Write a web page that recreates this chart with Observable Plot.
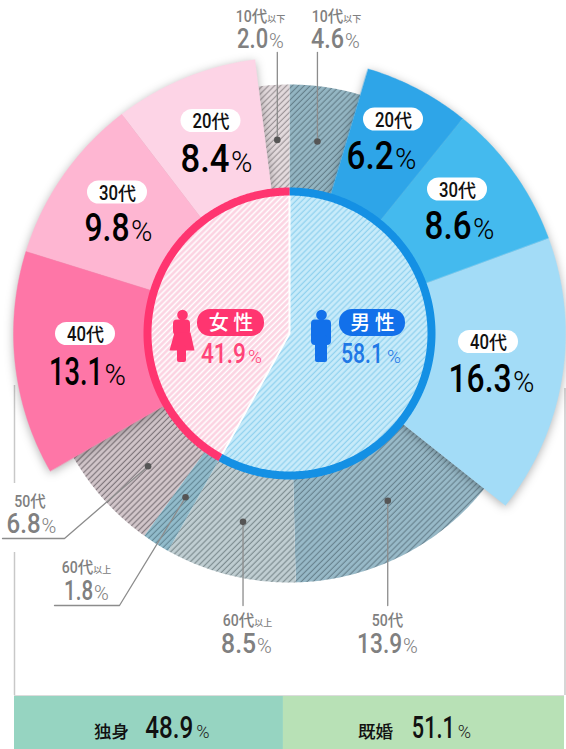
<!DOCTYPE html>
<html><head><meta charset="utf-8">
<script src="https://cdn.jsdelivr.net/npm/d3@7"></script>
<script src="https://cdn.jsdelivr.net/npm/@observablehq/plot@0.6"></script>
<style>
html,body{margin:0;padding:0;background:#fff;overflow:hidden}
</style></head><body><div id="chart"></div>
<script>
// ---- data (percent) ----
const maleAges = ["10代以下","20代","30代","40代","50代","60代以上"];
const maleValues = [4.6,6.2,8.6,16.3,13.9,8.5];
const femaleAges = ["10代以下","20代","30代","40代","50代","60代以上"];
const femaleValues = [2.0,8.4,9.8,13.1,6.8,1.8];
const genderNames = ["男性","女性"];
const genderValues = [58.1,41.9];
const maritalNames = ["独身","既婚"];
const maritalValues = [48.9,51.1];

// ---- styling / layout ----
const W=566,H=749,cx=289,cy=333,Rbig=276,Rgray=249,Rring=146,Rin=138;
const NUM='Roboto,sans-serif';
const JP='"Noto Sans CJK JP",sans-serif';
const maleFills=["url(#gm10)","#2ea5e8","#44baee","#a3dcf7","url(#gm50)","url(#gm60)"];
const femaleFills=["url(#gf10)","#fdd4e6","#feb6d2","#fe76a7","url(#gf50)","url(#gf60)"];
const patterns=[
 ["gm10","#94b6c3","rgba(55,75,85,.5)",1.2],
 ["gm50","#98bac8","rgba(55,75,85,.5)",1.2],
 ["gm60","#c0ced2","rgba(60,75,80,.5)",1.2],
 ["gf10","#e3dadd","rgba(70,65,70,.45)",1.2],
 ["gf50","#d2c6ca","rgba(60,55,60,.55)",1.2],
 ["gf60","#92bccc","rgba(55,85,100,.5)",1.2],
 ["pm","#c8ebfa","#92d2ef",1.3],
 ["pf","#fcd3e2","#fff",1.5],
];
const pol=(pct,r)=>{const a=pct/100*2*Math.PI;return [cx+r*Math.sin(a),cy-r*Math.cos(a)];};
function wedge(a0,a1,r0,r1,key,color){
  const n=Math.max(2,Math.ceil(Math.abs(a1-a0)*7.2)),pts=[];
  for(let i=0;i<=n;i++){pts.push(pol(a0+(a1-a0)*i/n,r1));}
  if(r0>0){for(let i=n;i>=0;i--){pts.push(pol(a0+(a1-a0)*i/n,r0));}}
  else pts.push([cx,cy]);
  return pts.map(([x,y])=>({x,y,key,color}));
}
let c=0;const maleSec=maleValues.map((v,i)=>{const s={a0:c,a1:c+v,fill:maleFills[i]};c+=v;return s;});
c=100;const femaleSec=femaleValues.map((v,i)=>{const s={a0:c-v,a1:c,fill:femaleFills[i]};c-=v;return s;});
const all=[...maleSec,...femaleSec];
const isGray=s=>s.fill.startsWith("url");
const grayMarks=all.filter(isGray).map(s=>Plot.line(wedge(s.a0,s.a1,Rin,Rgray),{x:"x",y:"y",fill:s.fill,stroke:"none",curve:"linear-closed"}));
const coloredPts=all.filter(s=>!isGray(s)).flatMap((s,i)=>wedge(s.a0,s.a1,Rin,Rbig,"k"+i,s.fill));
const mid=s=>(s.a0+s.a1)/2;

// text runs: tw = width a part is horizontally scaled to
const ctx=document.createElement("canvas").getContext("2d");
const rows=[];
function run(center,y,parts,gap=1){
  const nat=parts.map(p=>{ctx.font=`${p.w} ${p.s}px ${p.f}`;return ctx.measureText(p.t).width;});
  const ws=parts.map((p,i)=>p.tw??nat[i]);
  const tot=d3.sum(ws)+gap*(parts.length-1);
  let x=center-tot/2;
  parts.forEach((p,i)=>{rows.push({x,y,t:p.t,size:p.s,w:p.w,f:p.f,c:p.c,sx:ws[i]/nat[i]});x+=ws[i]+gap;});
}
const fmt=v=>v.toFixed(1);
const D=(v,s,tw,c,w=500)=>({t:fmt(v),s,w,f:NUM,c,tw});
const P=(s,c)=>({t:"%",s,w:300,f:NUM,c});
function age(a,ds,dtw,ks,c,w,subs){
  const m=a.match(/^(\d+)(代)(.*)$/);
  const parts=[{t:m[1],s:ds,w,f:NUM,c,tw:dtw},{t:m[2],s:ks,w:500,f:JP,c}];
  if(m[3]&&subs)parts.push({t:m[3],s:subs,w:500,f:JP,c});
  return parts;
}
const bigLabels=[
 {v:maleValues[1],a:maleAges[1],px:393,py:119,nx:381,ny:168,tw:47},
 {v:maleValues[2],a:maleAges[2],px:457,py:189,nx:459,ny:238,tw:47},
 {v:maleValues[3],a:maleAges[3],px:488,py:341.5,nx:491,ny:391,tw:63},
 {v:femaleValues[1],a:femaleAges[1],px:210.5,py:120.5,nx:216,ny:171,tw:49},
 {v:femaleValues[2],a:femaleAges[2],px:117,py:192,nx:118,ny:240,tw:45},
 {v:femaleValues[3],a:femaleAges[3],px:85,py:333.5,nx:87,ny:384,tw:54},
];
bigLabels.forEach(l=>{
  run(l.px,l.py+7,age(l.a,20,19,18,"#111",500),0);
  run(l.nx,l.ny,[D(l.v,39.5,l.tw,"#000"),P(29,"#000")],1.5);
});
const GR="#808080";
const grayLabels=[
 {v:femaleValues[0],a:femaleAges[0],nx:260,ax:260,ay:21,ny:47,tw:31},
 {v:maleValues[0],a:maleAges[0],nx:335,ax:336,ay:21,ny:47,tw:33},
 {v:femaleValues[4],a:femaleAges[4],nx:31,ax:29.5,ay:506,ny:532,tw:34},
 {v:femaleValues[5],a:femaleAges[5],nx:86,ax:86,ay:572,ny:599,tw:29},
 {v:maleValues[5],a:maleAges[5],nx:246,ax:247,ay:625,ny:652,tw:35},
 {v:maleValues[4],a:maleAges[4],nx:387,ax:387,ay:625,ny:652,tw:45},
];
grayLabels.forEach(l=>{
  run(l.ax,l.ay,age(l.a,17,16,15.5,GR,500,9),0);
  run(l.nx,l.ny,[D(l.v,28,l.tw,GR),P(20,GR)],1);
});
const FEM="#ff4478",MAL="#1f78e6";
const txt=(t,s,c)=>({t,s,w:500,f:JP,c});
const spaced=s=>s.split("").join(" ");
run(230.5,329.5,[txt(spaced(genderNames[1]),20,"#fff")],0);
run(372,329.5,[txt(spaced(genderNames[0]),20,"#fff")],0);
run(231,362,[D(genderValues[1],27,45,FEM),P(19,FEM)],2);
run(370.5,362,[D(genderValues[0],27,42,MAL),P(19,MAL)],4);
const barL=14,barR=564,barT=695;
const barX=v=>barL+(barR-barL)*v/100;
run(111,737,[txt(maritalNames[0],17.5,"#111")],0);
run(177,737,[D(maritalValues[0],31,48,"#111"),P(18,"#222")],3);
run(375,737,[txt(maritalNames[1],17.5,"#111")],0);
run(441,737,[D(maritalValues[1],31,43,"#111"),P(18,"#222")],3);

const textMark=Plot.text(rows,{
  x:"x",y:"y",text:"t",fontSize:d=>d.size,textAnchor:"start",lineAnchor:"bottom",fill:"#000",
  render(I,s,v,d,ctxt,next){
    const node=next(I,s,v,d,ctxt);
    node.querySelectorAll("text").forEach((el,k)=>{
      const r=rows[I[k]];
      el.setAttribute("font-family",r.f);el.setAttribute("font-weight",r.w);el.setAttribute("fill",r.c);
      el.style.fontFamily=r.f;el.style.fontWeight=r.w;
      if(Math.abs(r.sx-1)>.001)el.setAttribute("transform",(el.getAttribute("transform")||"")+` scale(${r.sx},1)`);
    });
    return node;
  }});

const dotR=194;
const leaderEnds=[
 [femaleSec[0],0,[[null,52]]],
 [maleSec[0],0,[[null,52]]],
 [maleSec[4],-1.1,[[null,605]]],
 [maleSec[5],0,[[null,605]]],
 [femaleSec[5],0,[[119,605],[54,605]]],
 [femaleSec[4],-0.3,[[64,538],[2,538]]],
];
const leaderPts=[],dots=[];
leaderEnds.forEach(([s,off,ends],i)=>{
  const [x,y]=pol(mid(s)+off,dotR);dots.push({x,y});
  leaderPts.push({x,y,k:i});
  ends.forEach(([ex,ey])=>leaderPts.push({x:ex==null?x:ex,y:ey,k:i}));
});

const pRect=(x1,x2,y1,y2,fill,rx)=>Plot.rect([{x1,x2,y1,y2}],{x1:"x1",x2:"x2",y1:"y1",y2:"y2",fill,rx});
const poly=(pts,fill)=>Plot.line(pts.map(([x,y])=>({x,y})),{x:"x",y:"y",fill,stroke:"none",curve:"linear-closed"});
const fc="#ff3570",mc="#1270ea";

const defs=()=>{
  const d=d3.create("svg:defs");
  patterns.forEach(([id,base,line,sw])=>{
    const p=d.append("pattern").attr("id",id).attr("patternUnits","userSpaceOnUse").attr("width",4.2).attr("height",4.2).attr("patternTransform","rotate(45)");
    p.append("rect").attr("width",4.2).attr("height",4.2).attr("fill",base);
    p.append("line").attr("x1",2).attr("x2",2).attr("y1",0).attr("y2",4.2).attr("stroke",line).attr("stroke-width",sw);
  });
  return d.node();
};
const split=genderValues[0];
const plot=Plot.plot({
  width:W,height:H,margin:0,
  x:{domain:[0,W],range:[0,W],axis:null},
  y:{domain:[0,H],range:[0,H],axis:null},
  color:{type:"identity"},
  style:{background:"#fff",overflow:"visible"},
  marks:[
    defs,
    Plot.ruleX([{x:barL,y1:385,y2:483},{x:barL,y1:552,y2:barT},{x:barR+0.5,y1:388,y2:barT}],{x:"x",y1:"y1",y2:"y2",stroke:"#c8c8c8",strokeWidth:1.5}),
    ...grayMarks,
    Plot.line(coloredPts,{x:"x",y:"y",z:"key",fill:"color",stroke:"color",strokeWidth:0.4,curve:"linear-closed",
      render(I,s,v,d,ctxt,next){const node=next(I,s,v,d,ctxt);node.style.filter="drop-shadow(0 2px 5px rgba(0,0,0,.3))";return node;}}),
    Plot.line(wedge(0,split,0,Rin+1),{x:"x",y:"y",fill:"url(#pm)",stroke:"none",curve:"linear-closed"}),
    Plot.line(wedge(split,100,0,Rin+1),{x:"x",y:"y",fill:"url(#pf)",stroke:"none",curve:"linear-closed"}),
    Plot.line([pol(0,Rin),[cx,cy],pol(split,Rin)].map(([x,y])=>({x,y})),{x:"x",y:"y",stroke:"#fff",strokeWidth:2}),
    Plot.line(wedge(0,split,Rin,Rring),{x:"x",y:"y",fill:"#1490e4",stroke:"none",curve:"linear-closed"}),
    Plot.line(wedge(split,100,Rin,Rring),{x:"x",y:"y",fill:"#ff3570",stroke:"none",curve:"linear-closed"}),
    Plot.line(leaderPts,{x:"x",y:"y",z:"k",stroke:"#8c8c8c",strokeWidth:1.3,curve:"linear"}),
    Plot.dot(dots,{x:"x",y:"y",r:3.3,fill:"#555",stroke:"none"}),
    ...bigLabels.map(l=>pRect(l.px-30,l.px+30,l.py-11.5,l.py+11.5,"#fff",11.5)),
    pRect(197,264,309,336,fc,13),
    pRect(339,405,309,336,mc,13),
    Plot.dot([{x:321,y:314.5}],{x:"x",y:"y",r:5.3,fill:mc,stroke:"none"}),
    pRect(311,331,319.5,345,mc,4),
    pRect(315,327,335,362,mc,2),
    Plot.dot([{x:182,y:314.5}],{x:"x",y:"y",r:5.3,fill:fc,stroke:"none"}),
    pRect(173,190,319.5,335,fc,4),
    poly([[174,332],[190,332],[194,350],[169,350]],fc),
    pRect(177,186,345,362,fc,2),
    Plot.rect([{a:0,b:maritalValues[0],f:"#96d4c1"},{a:maritalValues[0],b:100,f:"#b8e1b6"}],{x1:d=>barX(d.a),x2:d=>barX(d.b),y1:()=>barT,y2:()=>H,fill:"f"}),
    Plot.ruleY([barT],{x1:barL,x2:barR,stroke:"#dcdcdc",strokeWidth:1}),
    textMark
  ]
});
document.getElementById("chart").appendChild(plot);
</script></body></html>
